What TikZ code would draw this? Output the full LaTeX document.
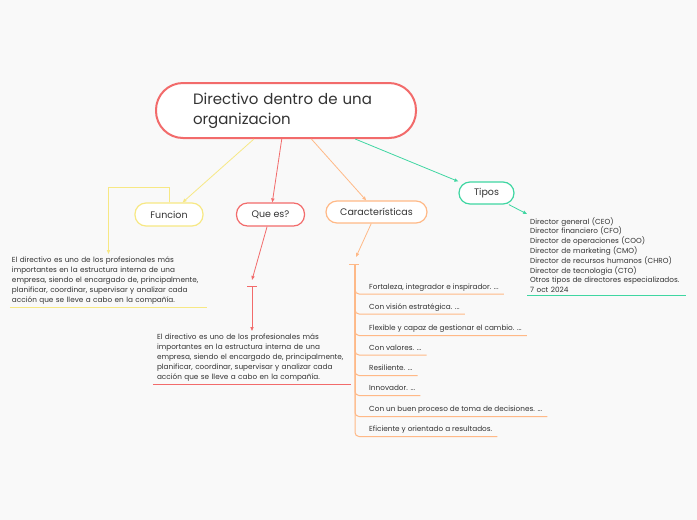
\documentclass[tikz,border=0pt]{standalone}
\usepackage{fontspec}
\setmainfont{Poppins}
\usetikzlibrary{arrows.meta, calc, positioning}
\definecolor{mapred}{HTML}{F26B6B}
\definecolor{mapyellow}{HTML}{F7E884}
\definecolor{maporange}{HTML}{FFB987}
\definecolor{mapgreen}{HTML}{3FD6A2}
\definecolor{maptext}{HTML}{333333}
\definecolor{mapbg}{HTML}{F9F9F9}

\begin{document}
\begin{tikzpicture}[x=1pt, y=-1pt, text=maptext,
  every node/.style={font=\fontsize{7.3}{9.8}\selectfont},
  topic/.style={draw, line width=1.2pt, fill=white, rounded corners=11pt, minimum height=23pt,
    font=\fontsize{9.5}{11}\selectfont},
  leaf/.style={align=left, inner xsep=2pt, inner ysep=3pt},
  citem/.style={anchor=south west, inner xsep=5pt, inner ysep=3pt, text depth=1.5pt},
  link/.style={line width=0.8pt, -{Triangle[length=4pt,width=3.2pt]}},
  bar/.style={line width=1pt}]
\fill[mapbg] (0,0) rectangle (697,520);
\useasboundingbox (0,0) rectangle (697,520);

% central topic
\node[draw=mapred, line width=2pt, fill=white, rounded corners=27pt, minimum width=260pt,
  minimum height=55pt, text width=186pt, inner xsep=37pt, align=left,
  font=\fontsize{15}{20}\selectfont] (main) at (286,110.5) {Directivo dentro de una\\organizacion};

% main topics
\node[topic, draw=mapyellow, minimum width=68pt] (funcion) at (169,214.5) {Funcion};
\node[topic, draw=mapred, minimum width=68pt] (quees) at (270.5,214.5) {Que es?};
\node[topic, draw=maporange, minimum width=101pt, minimum height=22pt] (caract) at (376.5,212) {Características};
\node[topic, draw=mapgreen, minimum width=55pt, minimum height=22pt] (tipos) at (486.5,193) {Tipos};

\draw[link, mapyellow] (main) -- (funcion);
\draw[link, mapred] (main) -- (quees);
\draw[link, maporange] (main) -- (caract);
\draw[link, mapgreen] (main) -- (tipos);

% Funcion
\node[leaf, text width=193pt, anchor=north] (ftext) at (108.5,254) {El directivo es uno de los profesionales más\\importantes en la estructura interna de una\\empresa, siendo el encargado de, principalmente,\\planificar, coordinar, supervisar y analizar cada\\acción que se lleve a cabo en la compañía.};
\draw[link, mapyellow] (funcion.north) -- ++(0,-15) -| (ftext.north);
\draw[bar, mapyellow] (ftext.south west) -- (ftext.south east);

% Que es?
\coordinate (qtop) at (252,280);
\coordinate (qbar) at (252,286);
\coordinate (qbarL) at (247,286);
\coordinate (qbarR) at (257,286);
\node[leaf, inner xsep=4pt, text width=190pt, anchor=north] (qtext) at (252,331) {El directivo es uno de los profesionales más\\importantes en la estructura interna de una\\empresa, siendo el encargado de, principalmente,\\planificar, coordinar, supervisar y analizar cada\\acción que se lleve a cabo en la compañía.};
\draw[link, mapred] (quees) -- (qtop);
\draw[bar, mapred] (qbarL) -- (qbarR);
\draw[link, mapred] (qbar) -- (qtext.north);
\draw[bar, mapred] (qtext.south west) -- (qtext.south east);

% Caracteristicas
\coordinate (ctop) at (356,257);
\coordinate (cbar) at (355,264);
\coordinate (cbarL) at (349,264);
\coordinate (cbarR) at (359,264);
\draw[link, maporange] (caract) -- (ctop);
\draw[bar, maporange] (cbarL) -- (cbarR);
\node[citem] (c1) at (364,294) {Fortaleza, integrador e inspirador. ...};
\node[citem] (c2) at (364,314) {Con visión estratégica. ...};
\node[citem] (c3) at (364,335.5) {Flexible y capaz de gestionar el cambio. ...};
\node[citem] (c4) at (364,355) {Con valores. ...};
\node[citem] (c5) at (364,375.5) {Resiliente. ...};
\node[citem] (c6) at (364,395.5) {Innovador. ...};
\node[citem] (c7) at (364,416.5) {Con un buen proceso de toma de decisiones. ...};
\node[citem] (c8) at (364,436.5) {Eficiente y orientado a resultados.};
\foreach \c in {c1,c2,c3,c4,c5,c6,c7,c8}
  \draw[bar, maporange, rounded corners=4pt] (cbar) |- (\c.south east);

% Tipos
\node[leaf, inner xsep=3pt, text width=153pt, anchor=north west] (ttext) at (527,214) {Director general (CEO)\\Director financiero (CFO)\\Director de operaciones (COO)\\Director de marketing (CMO)\\Director de recursos humanos (CHRO)\\Director de tecnología (CTO)\\Otros tipos de directores especializados.\\7 oct 2024};
\draw[link, mapgreen] (tipos) -- (ttext.north west);
\draw[bar, mapgreen] (ttext.south west) -- (ttext.south east);
\end{tikzpicture}
\end{document}
